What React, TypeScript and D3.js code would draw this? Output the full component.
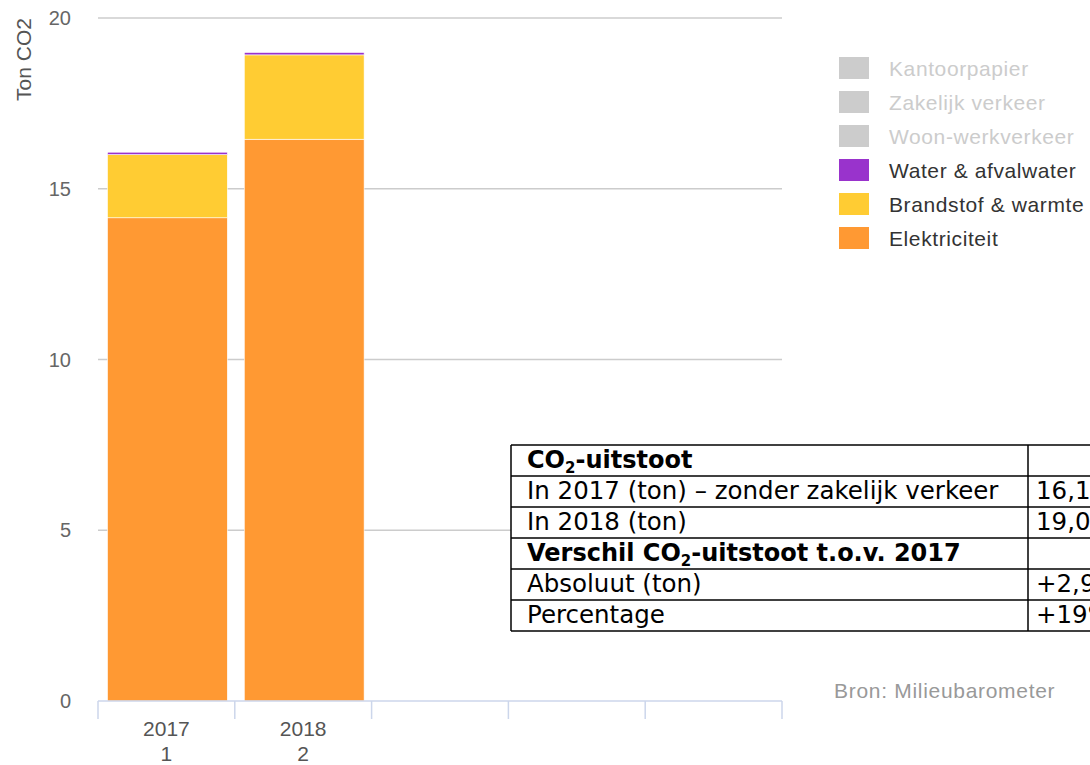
import * as d3 from "d3";
import { useEffect } from "react";

const slots = ["2017", "2018", "", "", ""];
const subLabels = ["1", "2", "", "", ""];
const years = ["2017", "2018"];
const elektriciteit = [14.15, 16.45];
const brandstof = [1.85, 2.47];
const water = [0.07, 0.07];
const yTicks = [0, 5, 10, 15, 20];

const legendItems = [
  { name: "Kantoorpapier", color: "#cccccc", hidden: true },
  { name: "Zakelijk verkeer", color: "#cccccc", hidden: true },
  { name: "Woon-werkverkeer", color: "#cccccc", hidden: true },
  { name: "Water & afvalwater", color: "#9933cc", hidden: false },
  { name: "Brandstof & warmte", color: "#ffcc33", hidden: false },
  { name: "Elektriciteit", color: "#ff9933", hidden: false },
];

const tableRows = [
  { label: "CO|2|-uitstoot", value: "", bold: true },
  { label: "In 2017 (ton) – zonder zakelijk verkeer", value: "16,1", bold: false },
  { label: "In 2018 (ton)", value: "19,0", bold: false },
  { label: "Verschil CO|2|-uitstoot t.o.v. 2017", value: "", bold: true },
  { label: "Absoluut (ton)", value: "+2,9", bold: false },
  { label: "Percentage", value: "+19%", bold: false },
];

const FONT = "'Liberation Sans', Arial, sans-serif";
const TFONT = "'DejaVu Sans', Verdana, sans-serif";

export default function App() {
  useEffect(() => {
    document.body.style.margin = "0";
  }, []);

  const width = 1090;
  const height = 765;
  const plot = { left: 98, right: 782, top: 18, bottom: 701 };

  const x = d3.scaleBand<number>().domain(d3.range(slots.length)).range([plot.left, plot.right]);
  const y = d3.scaleLinear().domain([0, 20]).range([plot.bottom, plot.top]);
  const bw = x.bandwidth();
  const barOffset = bw * (9.5 / 137);
  const barW = bw * (120 / 137);

  const stackData = years.map((yr, i) => ({
    year: yr,
    Elektriciteit: elektriciteit[i],
    Brandstof: brandstof[i],
    Water: water[i],
  }));
  const keys = ["Elektriciteit", "Brandstof", "Water"];
  const colors: Record<string, string> = {
    Elektriciteit: "#ff9933",
    Brandstof: "#ffcc33",
    Water: "#9933cc",
  };
  const series = d3.stack<any>().keys(keys)(stackData);

  const tblLeft = 511;
  const tblRight = 1200;
  const tblDiv = 1028;
  const tblTop = 445;
  const rowH = 31;

  const renderLabel = (label: string) => {
    const parts = label.split("|");
    return parts.map((p, k) =>
      k % 2 === 1 ? (
        <tspan key={k} fontSize={15} dy={5}>{p}</tspan>
      ) : (
        <tspan key={k} dy={k === 0 ? 0 : -5}>{p}</tspan>
      )
    );
  };

  return (
    <svg width={width} height={height} style={{ display: "block" }}>
      <rect width={width} height={height} fill="#fff" />
      {/* grid */}
      {yTicks.slice(1).map(t => (
        <line key={t} x1={plot.left} x2={plot.right} y1={y(t)} y2={y(t)} stroke="#cccccc" strokeWidth={1.5} />
      ))}
      {yTicks.map(t => (
        <text key={t} x={71} y={y(t) + 7} textAnchor="end" fontFamily={FONT} fontSize={20} fill="#666">{t}</text>
      ))}
      <text transform={`translate(31,${plot.top}) rotate(-90)`} textAnchor="end" fontFamily={FONT} fontSize={21} fill="#555">Ton CO2</text>

      {/* bars */}
      {series.map(s => (
        <g key={s.key} fill={colors[s.key]}>
          {s.map((d, i) => (
            <rect
              key={i}
              x={(x(i) as number) + barOffset}
              width={barW}
              y={y(d[1])}
              height={Math.max(0, y(d[0]) - y(d[1]))}
              stroke="#fff"
              strokeWidth={0.6}
            />
          ))}
        </g>
      ))}

      {/* x axis */}
      <line x1={plot.left} x2={plot.right} y1={plot.bottom} y2={plot.bottom} stroke="#ccd6eb" strokeWidth={1.5} />
      {d3.range(slots.length + 1).map(i => {
        const xx = plot.left + i * bw;
        return <line key={i} x1={xx} x2={xx} y1={plot.bottom} y2={plot.bottom + 18} stroke="#ccd6eb" strokeWidth={1.5} />;
      })}
      {slots.map((s, i) => (
        <g key={i} fontFamily={FONT} fontSize={21} fill="#555" textAnchor="middle">
          <text x={(x(i) as number) + bw / 2} y={736}>{s}</text>
          <text x={(x(i) as number) + bw / 2} y={761}>{subLabels[i]}</text>
        </g>
      ))}

      {/* legend */}
      {legendItems.map((it, i) => (
        <g key={it.name} transform={`translate(839,${57 + i * 34})`}>
          <rect width={30} height={22} fill={it.color} />
          <text x={50} y={19} fontFamily={FONT} fontSize={21} letterSpacing={0.6} fill={it.hidden ? "#cccccc" : "#333"}>{it.name}</text>
        </g>
      ))}

      <text x={834} y={698} fontFamily={FONT} fontSize={21} letterSpacing={0.7} fill="#999">Bron: Milieubarometer</text>

      {/* table */}
      <g fontFamily={TFONT} fontSize={24.5} fill="#000">
        <rect x={tblLeft} y={tblTop} width={tblRight - tblLeft} height={rowH * tableRows.length} fill="#fff" />
        {tableRows.map((r, i) => (
          <g key={i}>
            <text x={tblLeft + 16} y={tblTop + i * rowH + 23} fontWeight={r.bold ? "bold" : "normal"} fontSize={r.bold ? 24 : 24.5}>
              {renderLabel(r.label)}
            </text>
            <text x={tblDiv + 8} y={tblTop + i * rowH + 23}>{r.value}</text>
          </g>
        ))}
        {d3.range(tableRows.length + 1).map(i => (
          <line key={i} x1={tblLeft} x2={tblRight} y1={tblTop + i * rowH} y2={tblTop + i * rowH} stroke="#000" strokeWidth={1.5} />
        ))}
        <line x1={tblLeft} x2={tblLeft} y1={tblTop} y2={tblTop + rowH * tableRows.length} stroke="#000" strokeWidth={1.5} />
        <line x1={tblDiv} x2={tblDiv} y1={tblTop} y2={tblTop + rowH * tableRows.length} stroke="#000" strokeWidth={1.5} />
      </g>
    </svg>
  );
}
